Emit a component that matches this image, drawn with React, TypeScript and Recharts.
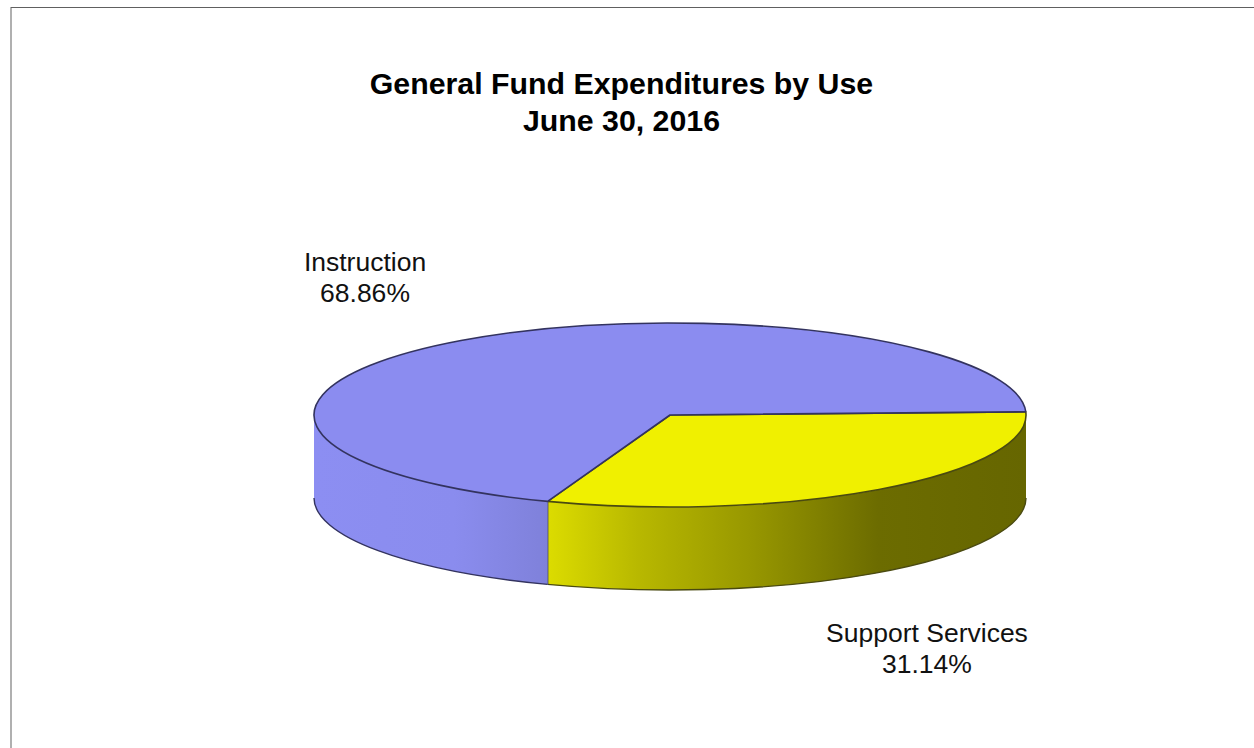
import React from 'react'
import { PieChart, Pie, Cell } from 'recharts'

const categories = ['Support Services', 'Instruction']
const shares = [31.14, 68.86]
const topColors = ['#f0f000', '#8b8cf0']
const wallFills = ['url(#wallYellow)', 'url(#wallBlue)']
const edgeColors = ['#4a4a10', '#33335f']
const titleLines = ['General Fund Expenditures by Use', 'June 30, 2016']

const pieData = categories.map((name, i) => ({ name, value: shares[i] }))

const WIDTH = 1254
const HEIGHT = 748
const CX = 670
const CY = 415
const RX = 356
const RY = 92
const DEPTH = 83
const FONT = '"Liberation Sans", Arial, sans-serif'

// where each label block sits relative to its slice's rim point
const labelOffsets: Record<string, [number, number]> = {
  Instruction: [-96, -70],
  'Support Services': [48, 153],
}

const rad = (deg: number) => (deg * Math.PI) / 180
const squash = RY / RX

function rimPoint(cx: number, cy: number, r: number, angle: number) {
  return {
    x: cx + r * Math.cos(rad(angle)),
    y: cy - r * squash * Math.sin(rad(angle)),
  }
}

// recharts angles run counter-clockwise, so the front half of the disc is -180..0
function PieSlice3D(props: any) {
  const { cx, cy, outerRadius: r, startAngle, endAngle, fill, index } = props
  const hi = Math.max(startAngle, endAngle)
  const lo = Math.min(startAngle, endAngle)
  const ry = r * squash
  const a = rimPoint(cx, cy, r, hi)
  const b = rimPoint(cx, cy, r, lo)
  const large = hi - lo > 180 ? 1 : 0
  const top = `M${cx},${cy} L${a.x},${a.y} A${r},${ry} 0 ${large} 1 ${b.x},${b.y} Z`

  // wall only exists where the slice overlaps the front half; angles are normalised per turn
  const walls: React.ReactNode[] = []
  for (const turn of [0, -360]) {
    const from = Math.min(hi + turn, 0)
    const to = Math.max(lo + turn, -180)
    if (from <= to) continue
    const p = rimPoint(cx, cy, r, from)
    const q = rimPoint(cx, cy, r, to)
    walls.push(
      <g key={turn}>
        <path
          d={`M${p.x},${p.y} A${r},${ry} 0 0 1 ${q.x},${q.y} L${q.x},${q.y + DEPTH} A${r},${ry} 0 0 0 ${p.x},${p.y + DEPTH} Z`}
          fill={wallFills[index]}
        />
        <path
          d={`M${q.x},${q.y + DEPTH} A${r},${ry} 0 0 0 ${p.x},${p.y + DEPTH}`}
          fill="none"
          stroke={edgeColors[index]}
          strokeWidth={1.4}
        />
      </g>
    )
  }

  // the seam between the two walls is where the first slice ends at the front
  const seam = index === 0 ? (
    <line x1={b.x} y1={b.y} x2={b.x} y2={b.y + DEPTH} stroke="#45455a" strokeWidth={1.5} />
  ) : null

  return (
    <g>
      {walls}
      {seam}
      <path d={top} fill={fill} stroke={edgeColors[index]} strokeWidth={1.6} strokeLinejoin="round" />
    </g>
  )
}

function SliceLabel(props: any) {
  const { cx, cy, outerRadius, midAngle, name, value } = props
  const rim = rimPoint(cx, cy, outerRadius, midAngle)
  const [dx, dy] = labelOffsets[name]
  const x = rim.x + dx
  const y = rim.y + dy
  return (
    <text x={x} y={y} textAnchor="middle" fontFamily={FONT} fontSize={26.5} fill="#111">
      <tspan x={x}>{name}</tspan>
      <tspan x={x} dy={31}>{value.toFixed(2)}%</tspan>
    </text>
  )
}

export default function App() {
  return (
    <div style={{ position: 'absolute', left: 0, top: 0, width: WIDTH, height: HEIGHT, background: '#fff', overflow: 'hidden' }}>
      <div style={{ position: 'absolute', left: 10, top: 7, width: 2, height: HEIGHT, background: '#b0b0b0' }} />
      <div style={{ position: 'absolute', left: 11, top: 7, width: WIDTH, height: 1, background: '#606060' }} />
      <PieChart width={WIDTH} height={HEIGHT} margin={{ top: 0, right: 0, bottom: 0, left: 0 }} style={{ position: 'absolute', left: 0, top: 0 }}>
        <defs>
          <linearGradient id="wallYellow" x1="0" y1="0" x2="1" y2="0">
            <stop offset="0" stopColor="#dcdc00" />
            <stop offset="0.19" stopColor="#b8b800" />
            <stop offset="0.42" stopColor="#989800" />
            <stop offset="0.69" stopColor="#6c6c00" />
            <stop offset="1" stopColor="#666600" />
          </linearGradient>
          <linearGradient id="wallBlue" x1="0" y1="0" x2="1" y2="0">
            <stop offset="0" stopColor="#8c8ef2" />
            <stop offset="0.6" stopColor="#8a8cee" />
            <stop offset="1" stopColor="#7f81da" />
          </linearGradient>
        </defs>
        <Pie
          data={pieData}
          dataKey="value"
          nameKey="name"
          cx={CX}
          cy={CY}
          innerRadius={0}
          outerRadius={RX}
          startAngle={2}
          endAngle={-358}
          paddingAngle={0}
          isAnimationActive={false}
          shape={PieSlice3D}
          label={SliceLabel}
          labelLine={false}
        >
          {pieData.map((d, i) => (
            <Cell key={d.name} fill={topColors[i]} />
          ))}
        </Pie>
        <text textAnchor="middle" fontFamily={FONT} fontWeight="bold" fontSize={30.3} fill="#000">
          <tspan x={621.5} y={94}>{titleLines[0]}</tspan>
          <tspan x={621.5} y={131}>{titleLines[1]}</tspan>
        </text>
      </PieChart>
    </div>
  )
}
